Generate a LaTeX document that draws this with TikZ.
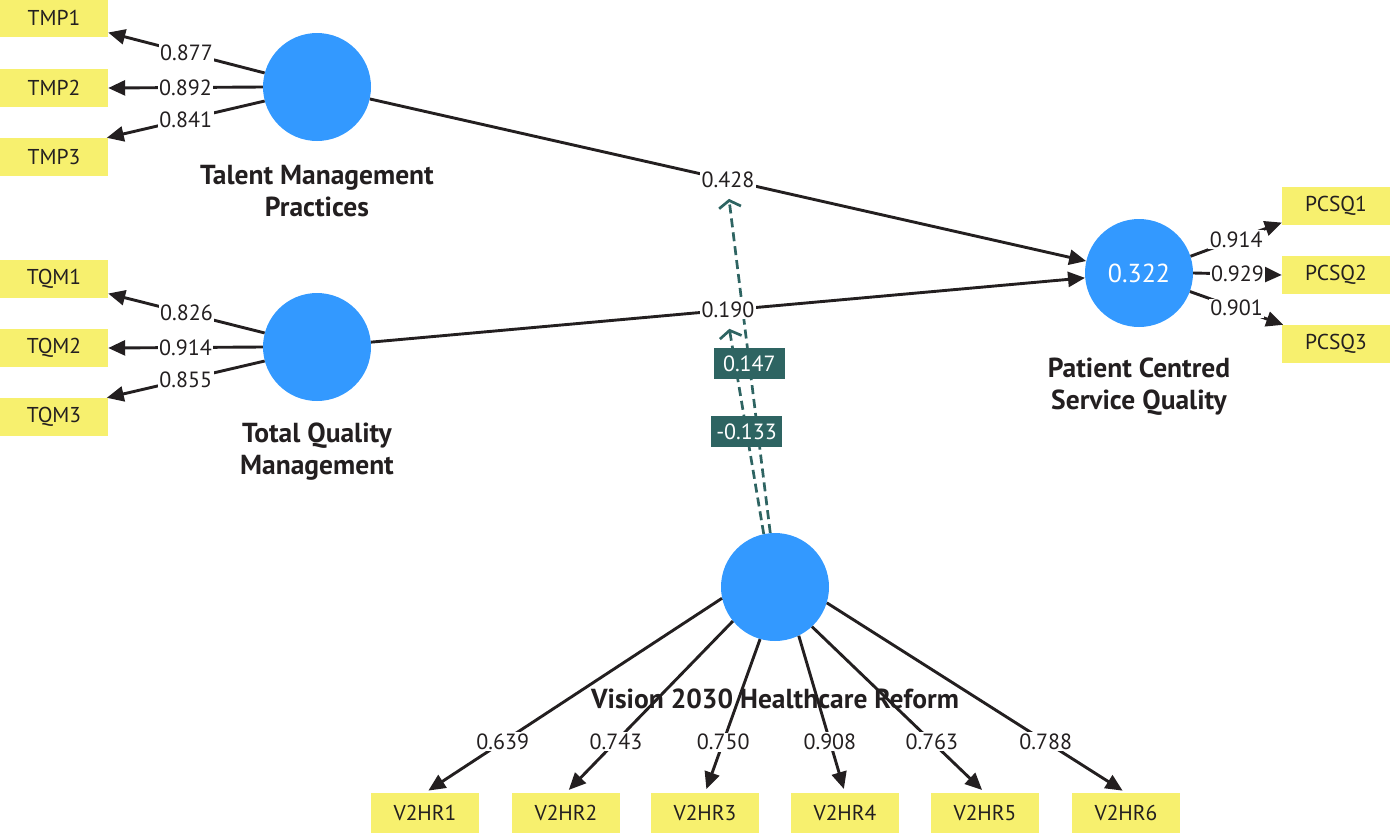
\documentclass[tikz,border=0pt]{standalone}
\usepackage{fontspec}
\setmainfont{PT Sans}
\usetikzlibrary{arrows.meta}
\pgfdeclarelayer{bg}
\pgfsetlayers{bg,main}
\definecolor{lvblue}{HTML}{3399FF}
\definecolor{indyel}{HTML}{F7F06E}
\definecolor{modteal}{HTML}{2E6462}
\definecolor{ink}{HTML}{231F20}
\begin{document}
\begin{tikzpicture}[x=1pt,y=-1pt,
  lv/.style={circle,fill=lvblue,minimum size=108pt,inner sep=0pt},
  ind/.style={rectangle,fill=indyel,minimum width=108pt,minimum height=38pt,inner sep=0pt,text=ink,font=\fontsize{21.5}{24}\selectfont},
  vind/.style={ind,minimum height=40pt},
  lvcap/.style={align=center,text=ink,font=\bfseries\fontsize{27.5}{32}\selectfont},
  lbl/.style={fill=white,inner sep=1.5pt,text=ink,font=\fontsize{22}{24}\selectfont},
  conn/.style={draw=ink,line width=2.9pt,-{Triangle[length=17pt,width=15pt]}},
  modline/.style={draw=modteal,line width=2.7pt,dash pattern=on 9pt off 5pt,shorten >=8pt,-{Straight Barb[length=7pt,width=22pt,line width=2.7pt]}},
  modlbl/.style={fill=modteal,text=white,inner sep=0pt,minimum width=71pt,minimum height=31pt,font=\fontsize{22}{24}\selectfont}
]
\useasboundingbox (0,0) rectangle (1390,833);

% latent variables
\node[lv] (tmp) at (317,87) {};
\node[lv] (tqm) at (317,347) {};
\node[lv,text=white,font=\fontsize{26}{28}\selectfont] (pcsq) at (1139,273) {0.322};
\node[lv] (v2hr) at (775,587) {};

% indicators
\node[ind] (tmp1) at (54,18) {TMP1};
\node[ind] (tmp2) at (54,88) {TMP2};
\node[ind] (tmp3) at (54,157) {TMP3};
\node[ind] (tqm1) at (54,279) {TQM1};
\node[ind] (tqm2) at (54,348) {TQM2};
\node[ind] (tqm3) at (54,417) {TQM3};
\node[ind] (pcsq1) at (1336,206) {PCSQ1};
\node[ind] (pcsq2) at (1336,275) {PCSQ2};
\node[ind] (pcsq3) at (1336,344) {PCSQ3};
\node[vind] (b1) at (425,813) {V2HR1};
\node[vind] (b2) at (566,813) {V2HR2};
\node[vind] (b3) at (705,813) {V2HR3};
\node[vind] (b4) at (845,813) {V2HR4};
\node[vind] (b5) at (985,813) {V2HR5};
\node[vind] (b6) at (1126,813) {V2HR6};

% structural paths
\draw[conn] (tmp) -- node[lbl] (l428) {0.428} (pcsq);
\draw[conn] (tqm) -- node[lbl] (l190) {0.190} (pcsq);

% moderating effects
\begin{pgfonlayer}{bg}
\draw[modline] (v2hr.95) -- coordinate[pos=0.495] (m1c) (l428.south);
\draw[modline] (v2hr.102) -- coordinate[pos=0.48] (m2c) (l190.south);
\end{pgfonlayer}
\node[modlbl] (m1) at (m1c) {0.147};
\node[modlbl] (m2) at (m2c) {-0.133};

% loadings
\draw[conn] (tmp.165) -- node[lbl] (ltmp1) {0.877} (tmp1.-15);
\draw[conn] (tmp.west) -- node[lbl] (ltmp2) {0.892} (tmp2.east);
\draw[conn] (tmp.195) -- node[lbl] (ltmp3) {0.841} (tmp3.20);
\draw[conn] (tqm.165) -- node[lbl] (ltqm1) {0.826} (tqm1.-15);
\draw[conn] (tqm.west) -- node[lbl] (ltqm2) {0.914} (tqm2.east);
\draw[conn] (tqm.195) -- node[lbl] (ltqm3) {0.855} (tqm3.20);
\draw[conn] (pcsq.18) -- node[lbl] (lpc1) {0.914} (pcsq1.197);
\draw[conn] (pcsq.east) -- node[lbl] (lpc2) {0.929} (pcsq2.west);
\draw[conn] (pcsq.-20) -- node[lbl] (lpc3) {0.901} (pcsq3.160);
\draw[conn,shorten >=4pt] (v2hr.192) -- node[lbl,pos=0.738] (lv1) {0.639} (b1.north);
\draw[conn,shorten >=4pt] (v2hr.219) -- node[lbl,pos=0.70] (lv2) {0.743} (b2.north);
\draw[conn,shorten >=4pt] (v2hr.254) -- node[lbl,pos=0.67] (lv3) {0.750} (b3.north);
\draw[conn,shorten >=4pt] (v2hr.296) -- node[lbl,pos=0.673] (lv4) {0.908} (b4.north);
\draw[conn,shorten >=4pt] (v2hr.313) -- node[lbl,pos=0.693] (lv5) {0.763} (b5.north);
\draw[conn,shorten >=4pt] (v2hr.343) -- node[lbl,pos=0.732] (lv6) {0.788} (b6.north);

% captions
\node[lvcap] (tmpcap) at (317,191) {Talent Management\\Practices};
\node[lvcap] (tqmcap) at (317,452) {Total Quality\\Management};
\node[lvcap] (pcsqcap) at (1139,387) {Patient Centred\\Service Quality};
\node[lvcap] (v2hrcap) at (775,699) {Vision 2030 Healthcare Reform};
\end{tikzpicture}
\end{document}
